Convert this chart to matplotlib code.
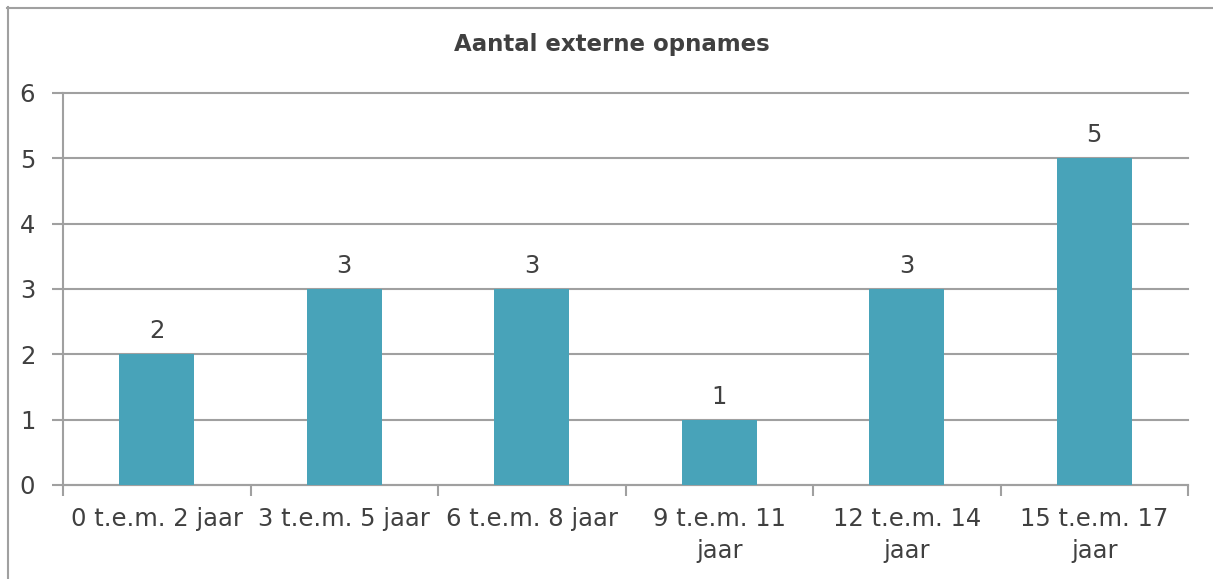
import matplotlib
matplotlib.use("Agg")
import matplotlib.pyplot as plt
from matplotlib.lines import Line2D

categories = ["0 t.e.m. 2 jaar", "3 t.e.m. 5 jaar", "6 t.e.m. 8 jaar",
              "9 t.e.m. 11\njaar", "12 t.e.m. 14\njaar", "15 t.e.m. 17\njaar"]
values = [2, 3, 3, 1, 3, 5]
yticks = [0, 1, 2, 3, 4, 5, 6]
title = "Aantal externe opnames"

W, H = 1213, 579
fig = plt.figure(figsize=(W / 100, H / 100), dpi=100)
plt.rcParams['font.family'] = ['DejaVu Sans']
txt = "#404040"
grid = "#A0A0A0"
bar_c = "#48A3B9"
fs = 17.5

ax = fig.add_axes([63 / W, 1 - 485 / H, (1188 - 63) / W, (485 - 93) / H])
x = list(range(len(categories)))
ax.bar(x, values, width=0.4, color=bar_c, zorder=3)
ax.set_xlim(-0.5, len(categories) - 0.5)
ax.set_ylim(0, 6)
ax.set_yticks(yticks)
ax.set_yticklabels([str(v) for v in yticks])
ax.yaxis.grid(True, color=grid, linewidth=1.5, zorder=0)
for gl in ax.get_ygridlines():
    gl.set_clip_on(False)
ax.set_axisbelow(True)
for s in ["top", "right"]:
    ax.spines[s].set_visible(False)
for s in ["left", "bottom"]:
    ax.spines[s].set_color(grid)
    ax.spines[s].set_linewidth(1.5)
ax.tick_params(axis='y', length=8, width=1.5, color=grid, labelsize=fs, labelcolor=txt, pad=12)
ax.tick_params(axis='x', length=0, labelsize=fs, labelcolor=txt, pad=16)
ax.set_xticks(x)
ax.set_xticklabels(categories, linespacing=1.4, va='top')
# boundary ticks
ax.set_xticks([i - 0.5 for i in range(len(categories) + 1)], minor=True)
ax.tick_params(axis='x', which='minor', length=8, width=1.5, color=grid)

for xi, v in zip(x, values):
    ax.annotate(str(v), (xi, v), xytext=(0, 8), textcoords='offset points',
                ha='center', va='bottom', fontsize=fs, color=txt)

fig.text(612 / W, 1 - 45 / H, title, ha='center', va='center',
         fontsize=16.5, fontweight='bold', color=txt)

# outer chart border (extends beyond canvas on right/bottom)
fig.add_artist(Line2D([7 / W, 1.01], [1 - 7.5 / H, 1 - 7.5 / H], transform=fig.transFigure,
                      color=grid, linewidth=1.5))
fig.add_artist(Line2D([7.5 / W, 7.5 / W], [-0.01, 1 - 7 / H], transform=fig.transFigure,
                      color=grid, linewidth=1.5))

fig.savefig("out.png", dpi=100)
